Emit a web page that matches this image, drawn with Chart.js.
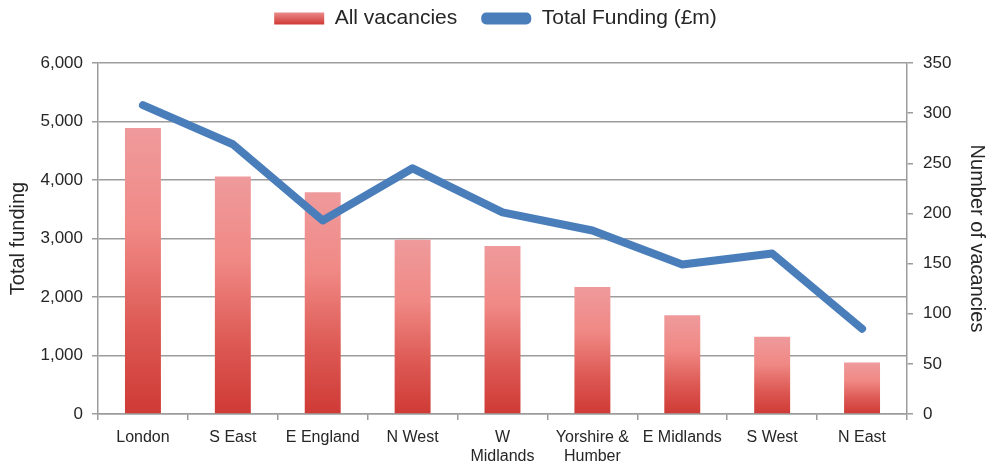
<!DOCTYPE html>
<html>
<head>
<meta charset="utf-8">
<script src="https://cdn.jsdelivr.net/npm/chart.js@4"></script>
<style>
  html, body { margin: 0; padding: 0; background: #fff; }
  #wrap { width: 991px; height: 474px; position: relative; }
</style>
</head>
<body>
<div id="wrap"><canvas id="regionChart"></canvas></div>
<script>
// Data
const regions = ['London', 'S East', 'E England', 'N West', ['W', 'Midlands'],
  ['Yorshire &', 'Humber'], 'E Midlands', 'S West', 'N East'];
const allVacancies = [4890, 4060, 3790, 2980, 2870, 2170, 1690, 1320, 880];
const totalFunding = [308, 269, 193, 245, 201, 183, 149, 160, 85];
const leftTicks = [0, 1000, 2000, 3000, 4000, 5000, 6000];
const rightTicks = [0, 50, 100, 150, 200, 250, 300, 350];

const FONT = "'Liberation Sans', Arial, sans-serif";
const TEXT = '#262626';
const GRID = '#9c9c9c';
const BLUE = '#4a7ebb';

// per-bar vertical gradient, light pink at the top, red at the base
function barGradient(ctx, top, bottom) {
  const g = ctx.createLinearGradient(0, top, 0, bottom);
  g.addColorStop(0, '#ef9a9c');
  g.addColorStop(0.35, '#f08985');
  g.addColorStop(0.7, '#dd5954');
  g.addColorStop(1, '#cf3a35');
  return g;
}

// tweak the legend box height so the plot starts lower
const legendGap = {
  id: 'legendGap',
  beforeInit(chart) {
    const fit = chart.legend.fit;
    chart.legend.fit = function () {
      fit.bind(chart.legend)();
      this.height += 24;
    };
  }
};

const ctx = document.getElementById('regionChart');

new Chart(ctx, {
  plugins: [legendGap],
  data: {
    labels: regions,
    datasets: [
      {
        type: 'bar',
        label: 'All vacancies',
        data: allVacancies,
        yAxisID: 'y',
        order: 2,
        barPercentage: 0.4,
        categoryPercentage: 1,
        backgroundColor: (c) => {
          const chart = c.chart;
          if (!chart.chartArea || c.type !== 'data') return '#e46a66';
          const ys = chart.scales.y;
          return barGradient(chart.ctx, ys.getPixelForValue(c.raw), ys.getPixelForValue(0));
        }
      },
      {
        type: 'line',
        label: 'Total Funding (£m)',
        data: totalFunding,
        yAxisID: 'y1',
        order: 1,
        borderColor: BLUE,
        backgroundColor: BLUE,
        borderWidth: 8,
        borderCapStyle: 'round',
        borderJoinStyle: 'round',
        pointRadius: 0,
        tension: 0
      }
    ]
  },
  options: {
    responsive: true,
    maintainAspectRatio: false,
    animation: false,
    layout: { padding: { left: 0, right: 0, top: -16, bottom: 0 } },
    plugins: {
      tooltip: { enabled: false },
      legend: {
        position: 'top',
        labels: {
          color: TEXT,
          font: { family: FONT, size: 21 },
          boxWidth: 50,
          boxHeight: 12,
          padding: 24,
          useBorderRadius: true,
          generateLabels(chart) {
            const items = Chart.defaults.plugins.legend.labels.generateLabels(chart);
            items.sort((a, b) => a.datasetIndex - b.datasetIndex);
            items.forEach(it => {
              it.lineWidth = 0;
              it.strokeStyle = 'rgba(0,0,0,0)';
              if (it.datasetIndex === 0) {
                const g = chart.ctx.createLinearGradient(0, 10, 0, 24);
                g.addColorStop(0, '#f09a9c');
                g.addColorStop(1, '#d03c37');
                it.fillStyle = g;
                it.borderRadius = 0;
              } else {
                it.fillStyle = BLUE;
                it.borderRadius = 5;
              }
            });
            return items;
          }
        }
      }
    },
    scales: {
      x: {
        offset: true,
        afterFit(scale) { scale.height = 60; },
        grid: {
          offset: true,
          drawOnChartArea: false,
          drawTicks: true,
          tickLength: 6,
          color: GRID,
          lineWidth: 1.5
        },
        border: { display: true, color: GRID, width: 1.5 },
        ticks: {
          color: TEXT,
          font: { family: FONT, size: 16 },
          maxRotation: 0,
          autoSkip: false,
          padding: 8
        }
      },
      y: {
        position: 'left',
        min: 0,
        max: 6000,
        afterFit(scale) { scale.width = 98; },
        afterBuildTicks(scale) { scale.ticks = leftTicks.map(v => ({ value: v })); },
        grid: { color: GRID, lineWidth: 1.5, tickLength: 6 },
        border: { display: true, color: GRID, width: 1.5 },
        ticks: {
          color: TEXT,
          font: { family: FONT, size: 17 },
          padding: 9,
          callback: (v) => v.toLocaleString('en-US')
        },
        title: {
          display: true,
          text: 'Total funding',
          color: TEXT,
          font: { family: FONT, size: 20 },
          padding: { top: 6, bottom: 0 }
        }
      },
      y1: {
        position: 'right',
        min: 0,
        max: 350,
        afterFit(scale) { scale.width = 84; },
        afterBuildTicks(scale) { scale.ticks = rightTicks.map(v => ({ value: v })); },
        grid: { drawOnChartArea: false, color: GRID, lineWidth: 1.5, tickLength: 6 },
        border: { display: true, color: GRID, width: 1.5 },
        ticks: {
          color: TEXT,
          font: { family: FONT, size: 17 },
          padding: 10
        },
        title: {
          display: true,
          text: 'Number of vacancies',
          color: TEXT,
          font: { family: FONT, size: 20 },
          padding: { top: 2, bottom: 0 }
        }
      }
    }
  }
});
</script>
</body>
</html>
